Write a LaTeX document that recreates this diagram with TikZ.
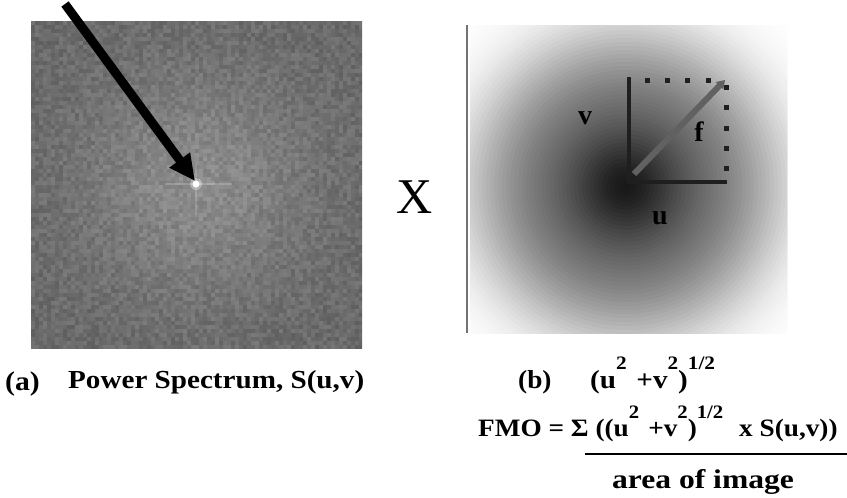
\documentclass[tikz,border=0pt]{standalone}
\usepackage{fontspec}
\setmainfont{Liberation Serif}
\usetikzlibrary{arrows.meta}
\newcommand\mysup[1]{\raisebox{0.7em}{\fontsize{19}{19}\selectfont #1}}
\newcommand\wide[2]{\scalebox{#1}[1]{#2}}
\tikzset{
  lbl/.style={font=\bfseries\fontsize{28}{28}\selectfont, inner sep=0pt},
  captxt/.style={font=\bfseries\fontsize{26}{26}\selectfont, inner sep=0pt, anchor=base west},
  frm/.style={font=\bfseries\fontsize{25}{25}\selectfont, inner sep=0pt},
  axisline/.style={line width=4.5pt, color=black!88},
  dotbox/.style={fill=black!88},
}
\begin{document}
\begin{tikzpicture}[x=1pt,y=-1pt]
\useasboundingbox (0,0) rectangle (847,498);
% ---------- left panel: power spectrum ----------
\begin{scope}
  \clip (31,21) rectangle (362,349);
  \pgfmathsetseed{7}
  \foreach \i in {0,...,82}{
    \foreach \j in {0,...,81}{
      \pgfmathsetmacro\dx{(33+4*\i-196)/110}
      \pgfmathsetmacro\dy{(23+4*\j-184)/110}
      \pgfmathtruncatemacro\g{106+34*exp(-(\dx*\dx+\dy*\dy))+26*(rnd-0.5)}
      \fill[color={rgb,255:red,\g;green,\g;blue,\g}] (31+4*\i,21+4*\j) rectangle ++(4.3,4.3);
    }
  }
  \draw[line width=1.5pt, white, opacity=0.2] (165,184) -- (232,184);
  \draw[line width=1.2pt, white, opacity=0.15] (196,165) -- (196,215);
  \fill[white, opacity=0.35] (196,184) circle (6);
  \fill[white] (196,184) circle (3.5);
\end{scope}
\coordinate (tail) at (65,4);
\coordinate (tip) at (195,181);
\draw[line width=9pt, -{Triangle[length=26pt,width=24pt]}] (tail) -- (tip);

% ---------- times sign ----------
\node[font=\fontsize{50}{50}\selectfont, inner sep=0pt] (times) at (415,197) {X};

% ---------- separator ----------
\coordinate (sepT) at (467,25);
\coordinate (sepB) at (467,333);
\draw[line width=1.3pt, black!55] (sepT) -- (sepB);

% ---------- right panel: frequency weighting ----------
\begin{scope}
  \clip (470,25) rectangle (787,333);
  \foreach \r in {236,232,...,4}{
    \pgfmathsetmacro\ra{\r/155}
    \pgfmathsetmacro\rb{\r/55}
    \pgfmathtruncatemacro\g{255-255*(0.58*exp(-(\ra*\ra*\ra*\ra))+0.32*exp(-(\rb*\rb)))}
    \fill[color={rgb,255:red,\g;green,\g;blue,\g}] (626,186) circle (\r);
  }
\end{scope}
\coordinate (O) at (629,182);
\coordinate (V) at (629,77);
\coordinate (U) at (727,182);
\coordinate (F0) at (634,174);
\coordinate (C) at (725,80);
\foreach \x in {647,667,687,708}{\fill[dotbox] (\x-2.5,77.5) rectangle ++(5,5);}
\foreach \y in {87,107,128,148,168}{\fill[dotbox] (723.5,\y-2.5) rectangle ++(5,5);}
\draw[axisline] (V) -- (O) -- (U);
\draw[line width=6pt, color=black!62, -{Triangle[length=8pt,width=10pt]}] (F0) -- (C);
\node[lbl] (vl) at (585,118) {v};
\node[lbl] (fl) at (699,132) {f};
\node[lbl] (ul) at (660,218) {u};

% ---------- captions ----------
\node[captxt, font=\bfseries\fontsize{27}{27}\selectfont] (a) at (5,390) {\wide{1.1}{(a)}};
\node[captxt] (ps) at (68,388) {\wide{1.12}{Power Spectrum, S(u,v)}};
\node[captxt, font=\bfseries\fontsize{26}{26}\selectfont] (b) at (518,388) {\wide{1.05}{(b)}};
\node[captxt, font=\bfseries\fontsize{26}{26}\selectfont] (uv) at (590,388) {\wide{1.12}{(u\mysup{2}\,\,+v\mysup{2})\mysup{1/2}}};

% ---------- formula ----------
\node[frm, anchor=base west] (fmo) at (478,436) {\wide{1.09}{FMO = Σ ((u\mysup{2}\,\,+v\mysup{2})\mysup{1/2}\,\, x S(u,v))}};
\coordinate (barL) at (585,454);
\coordinate (barR) at (847,454);
\draw[line width=1.4pt] (barL) -- (barR);
\node[frm, anchor=base, font=\bfseries\fontsize{27}{27}\selectfont] (area) at (703,488) {\wide{1.17}{area of image}};
\end{tikzpicture}
\end{document}
